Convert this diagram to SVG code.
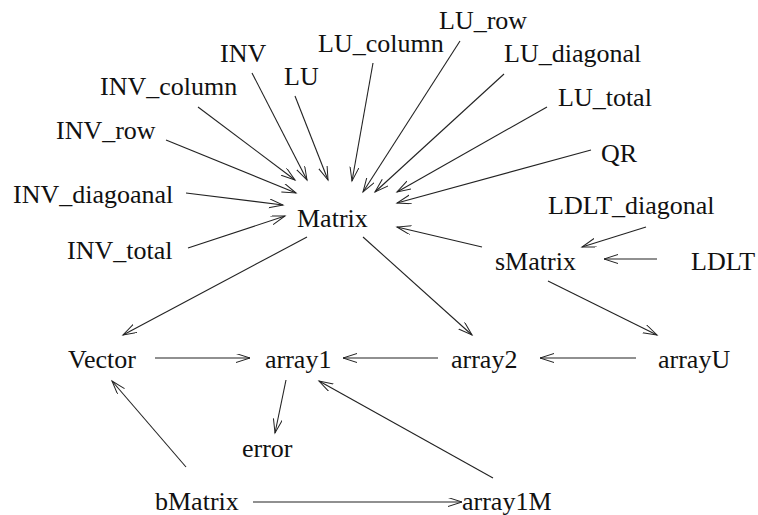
<svg xmlns="http://www.w3.org/2000/svg" width="758" height="515" viewBox="0 0 758 515">
<defs>
<marker id="arr" markerUnits="userSpaceOnUse" markerWidth="16" markerHeight="10" refX="14" refY="4.5" orient="auto">
<path d="M0,0 L14,4.5 L0,9" fill="none" stroke="#222" stroke-width="1"/>
</marker>
<style>
text{font-family:"Liberation Serif","Times New Roman",serif;font-size:26px;fill:#111}
.e line{stroke:#222;stroke-width:1.1;marker-end:url(#arr)}
</style>
</defs>
<rect width="758" height="515" fill="#fff"/>
<g id="connectors" class="e">
<line x1="198" y1="107" x2="295" y2="180"/>
<line x1="252" y1="73" x2="307" y2="180"/>
<line x1="295" y1="96" x2="328" y2="180"/>
<line x1="373" y1="63" x2="352" y2="181"/>
<line x1="460" y1="41" x2="363" y2="192"/>
<line x1="504" y1="74" x2="375" y2="192"/>
<line x1="547" y1="107" x2="397" y2="192"/>
<line x1="591" y1="150" x2="397" y2="203"/>
<line x1="166" y1="140" x2="296" y2="193"/>
<line x1="186" y1="193" x2="283" y2="205"/>
<line x1="188" y1="248" x2="285" y2="216"/>
<line x1="482" y1="247" x2="397" y2="227"/>
<line x1="646" y1="227" x2="582" y2="247"/>
<line x1="657" y1="259" x2="604" y2="259"/>
<line x1="307" y1="237" x2="123" y2="335"/>
<line x1="363" y1="237" x2="472" y2="335"/>
<line x1="548" y1="281" x2="657" y2="335"/>
<line x1="155" y1="358" x2="250" y2="358"/>
<line x1="438" y1="358" x2="343" y2="358"/>
<line x1="636" y1="358" x2="540" y2="358"/>
<line x1="286" y1="380" x2="275" y2="433"/>
<line x1="186" y1="467" x2="112" y2="381"/>
<line x1="493" y1="478" x2="319" y2="381"/>
<line x1="253" y1="502" x2="462" y2="502"/>
</g>
<g id="n_LU_row"><text x="439" y="29">LU_row</text></g>
<g id="n_LU_column"><text x="318" y="52">LU_column</text></g>
<g id="n_LU_diagonal"><text x="504" y="62">LU_diagonal</text></g>
<g id="n_INV"><text x="220" y="62">INV</text></g>
<g id="n_LU"><text x="284" y="85">LU</text></g>
<g id="n_INV_column"><text x="100" y="95">INV_column</text></g>
<g id="n_LU_total"><text x="558" y="106">LU_total</text></g>
<g id="n_INV_row"><text x="56" y="139">INV_row</text></g>
<g id="n_QR"><text x="601" y="162">QR</text></g>
<g id="n_INV_diagoanal"><text x="13" y="203">INV_diagoanal</text></g>
<g id="n_LDLT_diagonal"><text x="548" y="214">LDLT_diagonal</text></g>
<g id="n_Matrix"><text x="297" y="227">Matrix</text></g>
<g id="n_INV_total"><text x="67" y="259">INV_total</text></g>
<g id="n_sMatrix"><text x="495" y="270">sMatrix</text></g>
<g id="n_LDLT"><text x="691" y="270">LDLT</text></g>
<g id="n_Vector"><text x="68" y="368">Vector</text></g>
<g id="n_array1"><text x="265" y="368">array1</text></g>
<g id="n_array2"><text x="451" y="368">array2</text></g>
<g id="n_arrayU"><text x="658" y="368">arrayU</text></g>
<g id="n_error"><text x="242" y="457">error</text></g>
<g id="n_bMatrix"><text x="155" y="510">bMatrix</text></g>
<g id="n_array1M"><text x="462" y="510">array1M</text></g>
</svg>
